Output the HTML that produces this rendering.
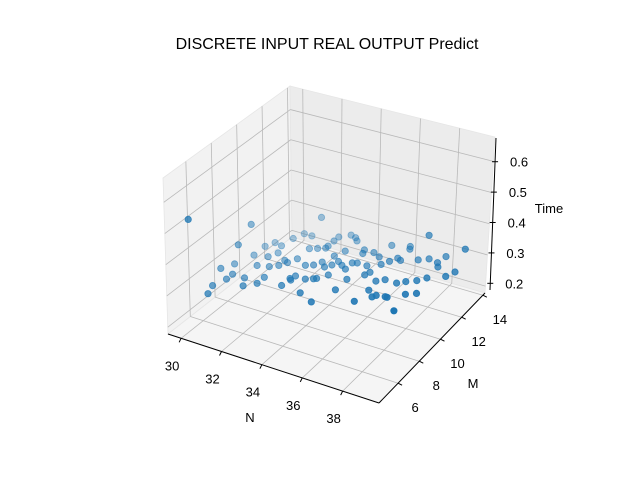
<!DOCTYPE html>
<html><head><meta charset="utf-8"><style>
html,body{margin:0;padding:0;background:#fff;}
svg{display:block;font-family:"Liberation Sans","DejaVu Sans",sans-serif;}
</style></head><body>
<svg id="chart" width="640" height="480" viewBox="0 0 640 480">
<text x="327" y="49" font-size="16" text-anchor="middle" fill="#000">DISCRETE INPUT REAL OUTPUT Predict</text>
<g id="panes"></g>
<g id="grid"></g>
<g id="axes"></g>
<g id="points"></g>
<text x="250" y="422" font-size="13" text-anchor="middle">N</text>
<text x="473" y="388" font-size="13" text-anchor="middle">M</text>
<text x="549" y="213" font-size="13" text-anchor="middle">Time</text>
</svg>
<script>
const nTicks = [30, 32, 34, 36, 38];
const mTicks = [6, 8, 10, 12, 14];
const tTicks = [0.2, 0.3, 0.4, 0.5, 0.6];
const nLabels = ["30", "32", "34", "36", "38"];
const mLabels = ["6", "8", "10", "12", "14"];
const tLabels = ["0.2", "0.3", "0.4", "0.5", "0.6"];
const nValues = [30.2,30.5,30.4,30.3,30.5,30.9,30.3,30.9,31.1,31.0,31.2,31.6,32.1,32.1,32.4,32.7,32.7,32.7,32.7,33.1,33.4,33.6,30.0,30.0,30.4,30.4,30.2,30.4,31.0,31.3,31.7,30.9,31.4,31.7,31.7,31.7,31.9,32.1,32.7,33.0,33.2,33.4,33.5,33.7,33.8,34.1,33.6,34.4,34.4,34.6,34.4,34.3,35.1,34.8,35.2,35.6,35.8,35.2,36.0,36.2,36.0,36.1,36.9,37.3,37.3,37.8,38.0,37.9,39.0,38.9,38.7,38.0,37.7,37.3,37.0,36.4,36.1,35.4,35.5,34.9,34.0,33.7,33.6,33.3,32.8,32.8,32.7,32.7,33.7,34.9,34.5,36.1,36.2,36.6,36.7,37.1,37.2,38.0,37.8,38.2];
const mValues = [4.7,9.2,8.3,10.6,11.1,11.0,9.7,9.9,10.4,11.8,12.4,12.4,12.4,11.4,11.6,11.8,12.0,12.5,12.9,13.3,13.2,13.0,7.5,8.6,7.8,7.3,6.5,5.8,7.8,7.2,7.7,9.0,9.2,8.3,9.5,10.0,9.9,10.4,10.1,10.3,10.7,11.4,10.4,10.7,11.1,10.9,12.0,10.7,11.3,11.4,12.2,12.5,11.4,12.5,12.3,11.8,12.2,13.4,12.6,12.5,13.7,13.5,12.9,13.2,13.1,13.1,12.8,13.7,13.5,12.8,12.3,11.8,11.4,11.1,10.8,10.8,10.5,10.7,11.0,10.0,9.9,9.4,9.3,9.1,9.1,8.7,8.8,8.1,8.0,9.0,7.6,8.6,9.7,9.3,9.5,9.6,9.6,8.8,10.2,10.5];
const timeValues = [0.55,0.40,0.36,0.28,0.28,0.28,0.28,0.28,0.28,0.28,0.28,0.28,0.35,0.28,0.28,0.28,0.28,0.28,0.28,0.28,0.28,0.28,0.30,0.28,0.28,0.28,0.28,0.28,0.28,0.28,0.28,0.28,0.28,0.28,0.28,0.28,0.28,0.28,0.28,0.28,0.28,0.28,0.28,0.28,0.28,0.28,0.28,0.28,0.28,0.28,0.28,0.28,0.28,0.28,0.28,0.28,0.28,0.28,0.28,0.28,0.28,0.28,0.28,0.28,0.36,0.28,0.28,0.28,0.33,0.28,0.28,0.28,0.28,0.28,0.28,0.28,0.28,0.28,0.28,0.28,0.28,0.28,0.28,0.28,0.28,0.28,0.28,0.28,0.28,0.28,0.28,0.28,0.28,0.28,0.28,0.28,0.28,0.28,0.28,0.28];

const NS = "http://www.w3.org/2000/svg";
const NMIN = 29.35, NMAX = 39.8, MMIN = 4.2, MMAX = 14.2, TMIN = 0.178, TMAX = 0.678;
const A0 = [168, 334], At = [163, 178];
const B0 = [379, 403], Bt = [383, 258];
const C0 = [485, 293], Ct = [495, 137];
const D0 = [292, 237], Dt = [290, 86];

function bil(a, b, c, d, u, v) {
  return [a[0]*(1-u)*(1-v) + b[0]*u*(1-v) + c[0]*u*v + d[0]*(1-u)*v,
          a[1]*(1-u)*(1-v) + b[1]*u*(1-v) + c[1]*u*v + d[1]*(1-u)*v];
}
function proj(n, m, t) {
  const u = (n - NMIN) / (NMAX - NMIN), v = (m - MMIN) / (MMAX - MMIN), w = (t - TMIN) / (TMAX - TMIN);
  const p0 = bil(A0, B0, C0, D0, u, v), p1 = bil(At, Bt, Ct, Dt, u, v);
  return [p0[0] + (p1[0] - p0[0]) * w, p0[1] + (p1[1] - p0[1]) * w];
}
function mk(tag, attrs, parent) {
  const e = document.createElementNS(NS, tag);
  for (const k in attrs) e.setAttribute(k, attrs[k]);
  parent.appendChild(e);
  return e;
}
function line(p, q, stroke, sw, parent) {
  return mk("line", {x1: p[0], y1: p[1], x2: q[0], y2: q[1], stroke: stroke, "stroke-width": sw}, parent);
}
const panes = document.getElementById("panes");
function poly(pts, fill, name) {
  const e = mk("polygon", {points: pts.map(p => p.join(",")).join(" "), fill: fill, stroke: "#e6e6e6", "stroke-width": 0.8}, panes);
  
  
}
poly([A0, D0, Dt, At], "#f2f2f2", "left-pane");
poly([D0, C0, Ct, Dt], "#ececec", "back-pane");
poly([A0, B0, C0, D0], "#f5f5f5", "floor-pane");

const grid = document.getElementById("grid");
const gc = "#b9b9b9";
nTicks.forEach(n => {
  const l1 = line(proj(n, MMIN, TMIN), proj(n, MMAX, TMIN), gc, 0.8, grid);
  
  
  const l2 = line(proj(n, MMAX, TMIN), proj(n, MMAX, TMAX), gc, 0.8, grid);
  
  
});
mTicks.forEach(m => {
  const l1 = line(proj(NMIN, m, TMIN), proj(NMAX, m, TMIN), gc, 0.8, grid);
  
  
  const l2 = line(proj(NMIN, m, TMIN), proj(NMIN, m, TMAX), gc, 0.8, grid);
  
  
});
tTicks.forEach(t => {
  const l1 = line(proj(NMIN, MMIN, t), proj(NMIN, MMAX, t), gc, 0.8, grid);
  
  
  const l2 = line(proj(NMIN, MMAX, t), proj(NMAX, MMAX, t), gc, 0.8, grid);
  
  
});

const axes = document.getElementById("axes");
const xa = line(A0, B0, "#000", 1, axes);


const ya = line(B0, C0, "#000", 1, axes);


const za = line([490, 290], [496, 138], "#000", 1, axes);



nTicks.forEach((n, i) => {
  const p = proj(n, MMIN, TMIN);
  line(p, [p[0] - 2, p[1] + 4], "#000", 1, axes);
  const tx = mk("text", {x: p[0] - 9, y: p[1] + 32, "font-size": 13, "text-anchor": "middle"}, axes);
  tx.textContent = nLabels[i];
  
  
});
mTicks.forEach((m, i) => {
  const p = proj(NMAX, m, TMIN);
  line(p, [p[0] + 4, p[1] + 2], "#000", 1, axes);
  const tx = mk("text", {x: p[0] + 17, y: p[1] + 29, "font-size": 13, "text-anchor": "middle"}, axes);
  tx.textContent = mLabels[i];
  
  
});
tTicks.forEach((t, i) => {
  const f = (t - TMIN) / (TMAX - TMIN);
  const p = [490 + 6 * f, 290 - 152 * f];
  line([p[0] - 3, p[1]], [p[0] + 3, p[1]], "#000", 1, axes);
  const tx = mk("text", {x: p[0] + 24, y: p[1] + 5, "font-size": 13, "text-anchor": "middle"}, axes);
  tx.textContent = tLabels[i];
  
  
});

const pts = document.getElementById("points");
const near = nValues.map((n, i) => (n - NMIN) / (NMAX - NMIN) + 1 - (mValues[i] - MMIN) / (MMAX - MMIN));
const nmn = Math.min(...near), nmx = Math.max(...near);
const order = nValues.map((_, i) => i).sort((a, b) => near[a] - near[b]);
order.forEach(i => {
  const p = proj(nValues[i], mValues[i], timeValues[i]);
  const a = 0.35 + 0.65 * (near[i] - nmn) / (nmx - nmn);
  const c = mk("circle", {cx: p[0].toFixed(1), cy: p[1].toFixed(1), r: 3.2, fill: "#1f77b4", "fill-opacity": a.toFixed(2), stroke: "#1f77b4", "stroke-opacity": a.toFixed(2), "stroke-width": 0.8}, pts);
  
  
});
</script>
</body></html>
